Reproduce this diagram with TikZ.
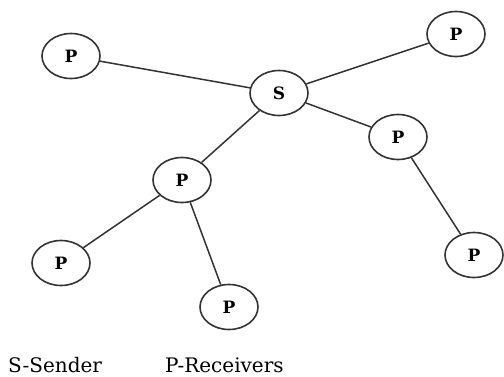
\documentclass[tikz,border=0pt]{standalone}
\usepackage{fontspec}
\setmainfont{DejaVu Serif}
\usetikzlibrary{shapes.geometric}
\begin{document}
\begin{tikzpicture}[x=1pt,y=-1pt,
  pnode/.style={ellipse,draw=black!80,line width=1.6pt,minimum width=58pt,minimum height=45pt,inner sep=0pt,font=\fontsize{17}{17}\selectfont\bfseries},
  link/.style={draw=black!80,line width=1.5pt},
  legend/.style={anchor=base west,inner sep=0pt,font=\fontsize{20}{20}\selectfont}]
\useasboundingbox (0,0) rectangle (504,376);
\node[pnode] (s)  at (279,93)  {S};
\node[pnode] (p1) at (71,56)   {P};
\node[pnode] (p2) at (456,34)  {P};
\node[pnode] (p3) at (398,137) {P};
\node[pnode] (p4) at (182,180) {P};
\node[pnode] (p5) at (61,263)  {P};
\node[pnode] (p6) at (229,307) {P};
\node[pnode] (p7) at (474,255) {P};
\draw[link] (s) -- (p1);
\draw[link] (s) -- (p2);
\draw[link] (s) -- (p3);
\draw[link] (s) -- (p4);
\draw[link] (p4) -- (p5);
\draw[link] (p4) -- (p6);
\draw[link] (p3) -- (p7);
\node[legend] (l1) at (8,372) {S-Sender};
\node[legend] (l2) at (165,372) {P-Receivers};
\end{tikzpicture}
\end{document}
